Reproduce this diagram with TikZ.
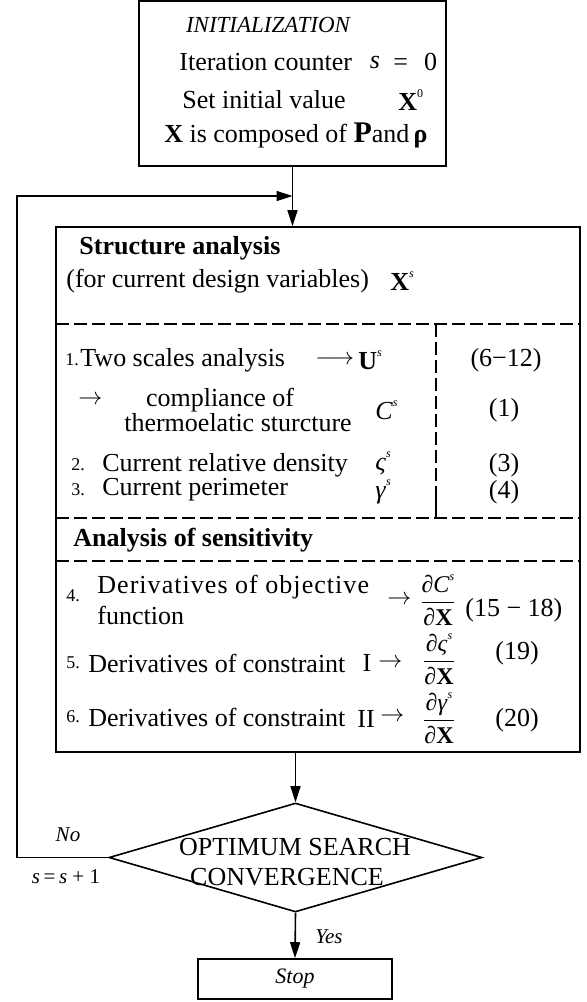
\documentclass[tikz,border=0pt]{standalone}
\usepackage{amsmath}
\usepackage{fontspec}
\setmainfont{Liberation Serif}
\usetikzlibrary{shapes.geometric,arrows.meta}
\newcommand\supi[1]{\raisebox{1.1ex}{\fontsize{6}{6}\selectfont\itshape #1}}
\begin{document}
\begin{tikzpicture}[x=0.5pt,y=-0.5pt,
  box/.style={draw, line width=0.8pt, inner sep=0pt},
  dline/.style={line width=1.3pt, dash pattern=on 6.5pt off 2.5pt},
  arr/.style={line width=0.8pt, -{Triangle[length=8pt,width=5pt]}},
  txt/.style={inner sep=0pt, font=\fontsize{13}{15}\selectfont},
  frac/.style={inner sep=-1pt, font=\fontsize{12}{14}\selectfont},
  btxt/.style={inner sep=0pt, font=\fontsize{13}{15}\selectfont\bfseries},
  lab/.style={inner sep=0pt, font=\fontsize{10.5}{12}\selectfont\itshape},
  num/.style={inner sep=0pt, font=\fontsize{9}{11}\selectfont},
]
\useasboundingbox (0,0) rectangle (587,1002);
% boxes
\node[box, minimum width=153.5pt, minimum height=82.5pt] (init) at (292.5,83.5) {};
\node[box, minimum width=262pt, minimum height=262.5pt] (struct) at (318,489.5) {};
\node[box, diamond, minimum width=186.5pt, minimum height=54.5pt] (dec) at (295.5,857.5) {};
\node[box, minimum width=97pt, minimum height=20pt, font=\fontsize{11}{13}\selectfont\itshape] (stop) at (295,979) {Stop};
% connectors
\coordinate (join) at (292.5,196);
\coordinate (lc) at (17,857.5);
\coordinate (tc) at (17,196);
\draw[arr] (init.south) -- (init.south |- struct.north);
\draw[arr] (dec.west) -- (lc) -- (tc) -- (join);
\draw[arr] (dec.north |- struct.south) -- (dec.north);
\draw[arr] (dec.south) -- (stop.north);
% dashed separators
\draw[dline] (56,324) -- (580,324);
\draw[dline] (56,518) -- (580,518);
\draw[dline] (56,561) -- (580,561);
\draw[dline] (436,324) -- (436,490);
\draw[line width=1.3pt] (436,490) -- (436,518);
% init texts
\node[inner sep=0pt, font=\fontsize{11.5}{13}\selectfont\itshape] (t1) at (268,25) {INITIALIZATION};
\node[txt, anchor=west] (t2) at (179,62) {Iteration counter};
\node[txt] (t2s) at (375,62) {\textit{s}};
\node[txt, anchor=west] (t2e) at (393,62) {=\hspace{8pt}0};
\node[txt, anchor=west] (t3) at (182,100) {Set initial value};
\node[txt, anchor=west] (t3x) at (398,100) {\textbf{X}\supi{\upshape 0}};
\node[txt] (t4) at (296,135) {\textbf{X} is composed of {\fontsize{15}{15}\selectfont\textbf{P}}and\,\textbf{ρ}};
% structure analysis
\node[btxt, anchor=west] (s1) at (79,248) {Structure analysis};
\node[txt, anchor=west] (s2) at (66,281) {(for current design variables)};
\node[txt, anchor=west] (s2x) at (390,281) {\textbf{X}\supi{s}};
\node[num, anchor=west] (n1) at (65,360) {1.};
\node[txt, anchor=west] (l1) at (80,360) {Two scales analysis};
\node[txt, anchor=west] (l1a) at (315,360) {$\longrightarrow$};
\node[txt, anchor=west] (l1u) at (358,360) {\textbf{U}\supi{s}};
\node[txt] (e1) at (506,360) {(6−12)};
\node[txt, anchor=west] (l2a) at (78,400) {$\rightarrow$};
\node[txt] (l2b) at (220,400) {compliance of};
\node[txt] (l2c) at (238,423) {thermoelatic sturcture};
\node[txt, anchor=west] (l2s) at (375,410) {\textit{C}\supi{s}};
\node[txt] (e2) at (504,410) {(1)};
\node[num, anchor=west] (n2) at (71,465) {2.};
\node[txt, anchor=west] (l3) at (102,465) {Current relative density};
\node[txt, anchor=west] (l3s) at (375,463) {\textit{ς}\supi{s}};
\node[txt] (e3) at (504,465) {(3)};
\node[num, anchor=west] (n3) at (71,490) {3.};
\node[txt, anchor=west] (l4) at (102,490) {Current perimeter};
\node[txt, anchor=west] (l4s) at (375,492) {\textit{γ}\supi{s}};
\node[txt] (e4) at (504,492) {(4)};
% sensitivity
\node[btxt, anchor=west] (a1) at (73,540) {Analysis of sensitivity};
\node[num, anchor=west] (n4) at (66,596) {4.};
\node[txt, anchor=west] (d1a) at (97,587) {\addfontfeature{LetterSpace=4}Derivatives of objective};
\node[txt, anchor=west] (d1b) at (97,615) {function};
\node[txt, anchor=west] (d1r) at (387,600) {$\rightarrow$};
\node[frac] (d1f) at (438,600) {$\dfrac{\text{∂\textit{C}\supi{s}}}{\text{∂\textbf{X}}}$};
\node[txt, anchor=west] (d1e) at (465,610) {(15 − 18)};
\node[num, anchor=west] (n5) at (66,663) {5.};
\node[txt, anchor=west] (d2a) at (88,663) {Derivatives of constraint};
\node[txt] (d2i) at (367,663) {I};
\node[txt, anchor=west] (d2r) at (378,663) {$\rightarrow$};
\node[frac] (d2f) at (439,659) {$\dfrac{\text{∂\textit{ς}\supi{s}}}{\text{∂\textbf{X}}}$};
\node[txt] (d2e) at (517,653) {(19)};
\node[num, anchor=west] (n6) at (66,717) {6.};
\node[txt, anchor=west] (d3a) at (88,717) {Derivatives of constraint};
\node[txt] (d3i) at (366,719) {II};
\node[txt, anchor=west] (d3r) at (380,717) {$\rightarrow$};
\node[frac] (d3f) at (439,718) {$\dfrac{\text{∂\textit{γ}\supi{s}}}{\text{∂\textbf{X}}}$};
\node[txt] (d3e) at (517,720) {(20)};
% decision
\node[txt] (dt1) at (295,847) {OPTIMUM SEARCH};
\node[txt] (dt2) at (287,877) {CONVERGENCE};
\node[lab] (no) at (68,835) {No};
\node[lab] (ss) at (66,877) {s\,{\upshape =}\,s {\upshape + 1}};
\node[lab] (yes) at (329,937) {Yes};
\end{tikzpicture}
\end{document}
